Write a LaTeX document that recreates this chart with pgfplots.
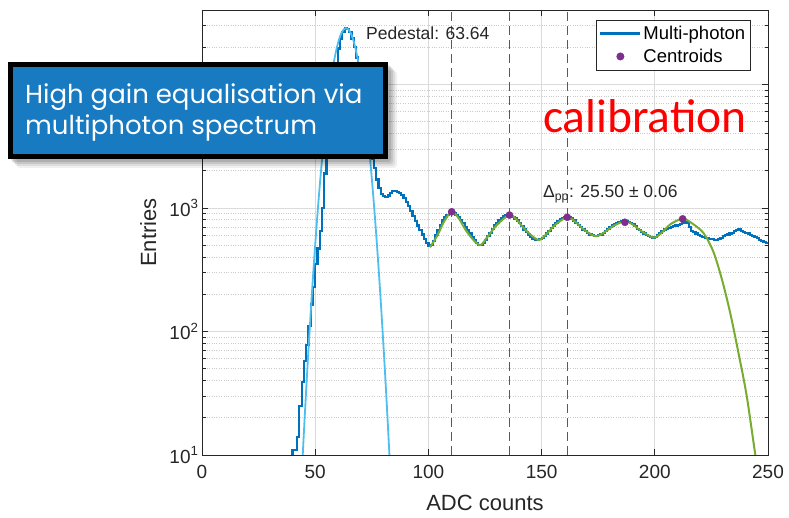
\documentclass[border=0pt]{standalone}
\usepackage{fontspec}
\setmainfont{Liberation Sans}
\newfontfamily\boxfont{Poppins}
\newfontfamily\calfont{Carlito}
\usepackage{pgfplots}
\pgfplotsset{compat=1.18}
\definecolor{mblue}{HTML}{0072BD}
\definecolor{lblue}{HTML}{4DBEEE}
\definecolor{mgreen}{HTML}{77AC30}
\definecolor{mpurple}{HTML}{7E2F8E}
\definecolor{boxblue}{RGB}{24,122,192}
\definecolor{axgray}{RGB}{38,38,38}
\begin{document}
\begin{tikzpicture}
\path[use as bounding box] (0,0) rectangle (789bp,518bp);
\begin{axis}[
  at={(202bp,63bp)}, anchor=south west, scale only axis,
  width=566bp, height=445bp,
  ymode=log, xmin=0, xmax=250, ymin=10, ymax=40000,
  xtick={0,50,100,150,200,250},
  xticklabels={0,50,100,150,200,250},
  ytick={10,100,1000,10000},
  yticklabels={10\textsuperscript{1},10\textsuperscript{2},10\textsuperscript{3},{}},
  minor ytick={20,30,40,50,60,70,80,90,200,300,400,500,600,700,800,900,2000,3000,4000,5000,6000,7000,8000,9000,20000,30000,40000},
  tick align=inside,
  major tick length=6bp, minor tick length=3.5bp,
  every tick/.style={axgray, line width=0.8bp},
  axis line style={axgray, line width=0.9bp},
  xmajorgrids, ymajorgrids, yminorgrids,
  major grid style={gray!28, line width=0.7bp},
  minor grid style={gray!40, dotted, line width=0.8bp},
  tick label style={font=\fontsize{19bp}{22bp}\selectfont, text=axgray},
  xticklabel style={yshift=-7bp},
  xlabel={ADC counts}, ylabel={Entries},
  label style={font=\fontsize{22bp}{26bp}\selectfont, text=axgray},
  xlabel style={at={(axis description cs:0.5,-0.108)}, anchor=center},
  ylabel style={at={(axis description cs:-0.095,0.5)}, anchor=center},
  legend image code/.code={\draw[mark repeat=2,mark phase=2,#1] plot coordinates {(0bp,0bp)(20bp,0bp)(40bp,0bp)};},
  legend style={at={(axis description cs:0.696,0.978)}, anchor=north west,
    draw=axgray, line width=0.7bp, fill=white,
    font=\fontsize{18.5bp}{22bp}\selectfont, inner xsep=3bp, inner ysep=4bp,
    row sep=4bp, cells={anchor=west}},
]
% multi-photon histogram
\addplot[const plot, mblue, line width=2.2bp] coordinates {
(38,5) (39,5) (40,11) (41,11) (42,14) (43,25) (44,39) (45,58) (46,78) (47,110)
(48,165) (49,230) (50,350) (51,470) (52,650) (53,1000) (54,1900) (55,3000) (56,4600) (57,7000)
(58,10500) (59,15000) (60,19500) (61,23500) (62,26500) (63,28500) (64,28200) (65,26500) (66,23500) (67,20000)
(68,16500) (69,13000) (70,9800) (71,7200) (72,5200) (73,3800) (74,3000) (75,2500) (76,2100) (77,1700)
(78,1450) (79,1300) (80,1250) (81,1230) (82,1260) (83,1330) (84,1370) (85,1380) (86,1350) (87,1320)
(88,1270) (89,1200) (90,1120) (91,1030) (92,950) (93,860) (94,780) (95,720) (96,660) (97,610)
(98,560) (99,520) (100,490) (101,500) (102,540) (103,600) (104,660) (105,730) (106,790) (107,840)
(108,880) (109,920) (110,930) (111,910) (112,880) (113,840) (114,800) (115,750) (116,700) (117,660)
(118,620) (119,580) (120,550) (121,520) (122,500) (123,500) (124,520) (125,550) (126,590) (127,630)
(128,680) (129,720) (130,760) (131,800) (132,830) (133,860) (134,880) (135,880) (136,870) (137,850)
(138,820) (139,790) (140,750) (141,710) (142,670) (143,640) (144,610) (145,580) (146,560) (147,550)
(148,550) (149,560) (150,570) (151,590) (152,620) (153,650) (154,690) (155,720) (156,750) (157,780)
(158,810) (159,830) (160,840) (161,850) (162,840) (163,820) (164,790) (165,760) (166,730) (167,700)
(168,670) (169,650) (170,630) (171,610) (172,600) (173,590) (174,590) (175,600) (176,610) (177,630)
(178,650) (179,680) (180,700) (181,720) (182,740) (183,760) (184,770) (185,780) (186,790) (187,780)
(188,770) (189,760) (190,740) (191,710) (192,680) (193,660) (194,640) (195,620) (196,600) (197,590)
(198,580) (199,570) (200,580) (201,600) (202,630) (203,650) (204,670) (205,680) (206,690) (207,700)
(208,710) (209,720) (210,730) (211,740) (212,760) (213,770) (214,760) (215,700) (216,650) (217,640)
(218,620) (219,600) (220,590) (221,580) (222,570) (223,570) (224,560) (225,560) (226,550) (227,550)
(228,560) (229,570) (230,590) (231,600) (232,610) (233,620) (234,630) (235,650) (236,660) (237,670)
(238,650) (239,640) (240,630) (241,620) (242,600) (243,590) (244,580) (245,570) (246,550) (247,540)
(248,530) (249,520) (250,510)
};
\addlegendentry{Multi-photon}
% pedestal gaussian fit
\addplot[lblue, line width=1.8bp, smooth, forget plot] coordinates {
(43.64,4.84) (44.64,11.3) (45.64,25.2) (46.64,53.8) (47.64,110) (48.64,216) (49.64,405) (50.64,728)
(51.64,1252) (52.64,2063) (53.64,3254) (54.64,4913) (55.64,7108) (56.64,9840) (57.64,13050) (58.64,16570)
(59.64,20140) (60.64,23440) (61.64,26130) (62.64,27890) (63.64,28500) (64.64,27890) (65.64,26130)
(66.64,23440) (67.64,20140) (68.64,16570) (69.64,13050) (70.64,9840) (71.64,7108) (72.64,4913)
(73.64,3254) (74.64,2063) (75.64,1252) (76.64,728) (77.64,405) (78.64,216) (79.64,110) (80.64,53.8)
(81.64,25.2) (82.64,11.3) (83.64,4.84)
};
% multi-peak fit
\addplot[mgreen, line width=2bp, smooth, forget plot] coordinates {
(100.7,480) (104,600) (107,780) (110.3,930) (113.5,820) (117,640) (122.5,500)
(126,580) (130,720) (135.8,880) (139,800) (143,660) (148.5,550)
(152,610) (156,730) (161.3,840) (165,770) (169,660) (174,590)
(178,640) (182,720) (186.8,780) (190,740) (194,650) (199.5,575)
(203,630) (207,740) (212.3,820) (216,760) (221.4,630) (225.8,445) (229.5,270)
(233.2,144) (236.9,68) (240.6,30) (244.3,10.3) (246,6.5)
};
% centroid lines
\addplot[black!65, line width=1bp, dash pattern=on 9bp off 5bp, forget plot] coordinates {(110.3,10) (110.3,40000)};
\addplot[black!65, line width=1bp, dash pattern=on 9bp off 5bp, forget plot] coordinates {(135.8,10) (135.8,40000)};
\addplot[black!65, line width=1bp, dash pattern=on 9bp off 5bp, forget plot] coordinates {(161.3,10) (161.3,40000)};
% centroids
\addplot[only marks, mark=*, mark size=3.6bp, mpurple, mark options={draw=mpurple, fill=mpurple}] coordinates {
(110.3,930) (135.8,875) (161.3,840) (186.8,765) (212.3,815)
};
\addlegendentry{Centroids}
\end{axis}
% annotations
\node[anchor=base west, inner sep=0pt, text=axgray, font=\fontsize{17.5bp}{20bp}\selectfont] at (366bp,478bp) {Pedestal: 63.64};
\node[anchor=base west, inner sep=0pt, text=axgray, font=\fontsize{17.5bp}{20bp}\selectfont] at (543bp,320bp) {Δ\textsubscript{pp}: 25.50 ± 0.06};
\node[anchor=base west, inner sep=0pt, text=red, font=\calfont\fontsize{47.5bp}{50bp}\selectfont] at (543bp,385bp) {calibration};
% overlay box with soft shadow
\foreach \s/\o in {9/0.06,7/0.08,5/0.1,3/0.12}{
  \fill[black, opacity=\o, rounded corners=3bp] (8bp+\s bp,359bp-\s bp) rectangle (388bp+\s bp,456bp-\s bp);
}
\draw[black, line width=5bp, fill=boxblue] (10.5bp,361.5bp) rectangle (385.5bp,453.5bp);
\node[anchor=base west, inner sep=0pt, text=white, font=\boxfont\fontsize{26bp}{30bp}\selectfont] at (25bp,414.7bp) {High gain equalisation via};
\node[anchor=base west, inner sep=0pt, text=white, font=\boxfont\fontsize{26bp}{30bp}\selectfont] at (25bp,383bp) {multiphoton spectrum};
\end{tikzpicture}
\end{document}
